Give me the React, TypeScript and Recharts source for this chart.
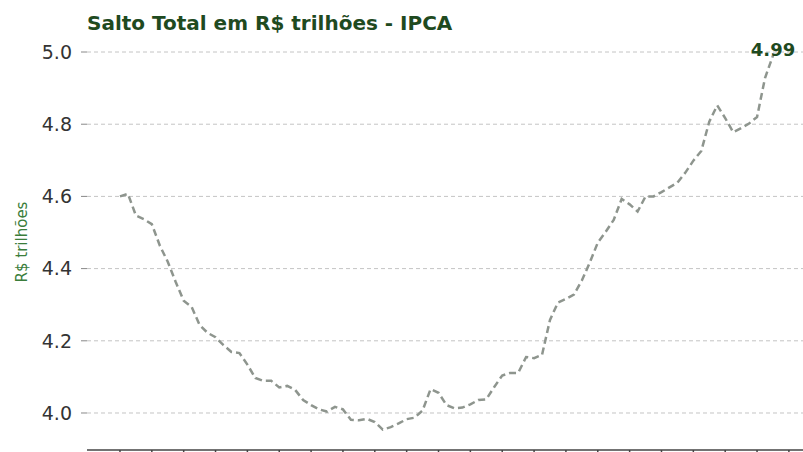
import { LineChart, Line, XAxis, YAxis, ReferenceLine, LabelList } from "recharts";

// monthly steps, values in R$ trilhões
const saltoTotal = [
  4.6, 4.607, 4.547, 4.537, 4.523, 4.464, 4.419, 4.363, 4.311, 4.294,
  4.244, 4.222, 4.21, 4.188, 4.169, 4.166, 4.134, 4.097, 4.089, 4.089,
  4.071, 4.075, 4.064, 4.036, 4.022, 4.01, 4.004, 4.017, 4.01, 3.981,
  3.98, 3.984, 3.975, 3.954, 3.961, 3.971, 3.983, 3.987, 4.007, 4.066,
  4.056, 4.022, 4.013, 4.015, 4.024, 4.036, 4.038, 4.072, 4.104, 4.111,
  4.111, 4.155, 4.152, 4.161, 4.258, 4.306, 4.316, 4.328, 4.367, 4.417,
  4.472, 4.502, 4.535, 4.593, 4.578, 4.558, 4.6, 4.6, 4.612, 4.625,
  4.638, 4.666, 4.699, 4.726, 4.807, 4.852, 4.817, 4.778, 4.789, 4.802,
  4.82, 4.928, 4.99,
];

const yTicks = [4.0, 4.2, 4.4, 4.6, 4.8, 5.0];
const xTicks = [0, 4, 8, 12, 16, 20, 24, 28, 32, 36, 40, 44, 48, 52, 56, 60, 64, 68, 72, 76, 80, 84];

const title = "Salto Total em R$ trilhões - IPCA";
const yLabel = "R$ trilhões";

const data = saltoTotal.map((v, i) => ({ i, v }));
const lastIndex = saltoTotal.length - 1;

const darkGreen = "#1f4a1f";
const font = "DejaVu Sans, sans-serif";

function LastValueLabel(props: any) {
  const { x, y, index, value } = props;
  if (index !== lastIndex) return null;
  return (
    <text
      x={x}
      y={y + 0.5}
      textAnchor="middle"
      fontFamily={font}
      fontWeight="bold"
      fontSize={18}
      fill={darkGreen}
    >
      {Number(value).toFixed(2)}
    </text>
  );
}

export default function App() {
  return (
    <div style={{ position: "fixed", left: 0, top: 0, width: 803, height: 452, background: "#fff" }}>
      <LineChart width={803} height={452} data={data} margin={{ top: 41, right: 0, bottom: 0, left: 0 }}>
        <XAxis
          dataKey="i"
          type="number"
          domain={[-4.14, 85.77]}
          allowDataOverflow
          ticks={xTicks}
          tickFormatter={() => ""}
          height={2}
          tickSize={6}
          stroke="#444"
          strokeWidth={1.5}
        />
        <YAxis
          width={87}
          domain={[3.8975, 5.0305]}
          allowDataOverflow
          ticks={yTicks}
          tickFormatter={(v: number) => v.toFixed(1)}
          axisLine={false}
          tickLine={{ stroke: "#888" }}
          tickSize={6}
          tickMargin={9}
          tick={{ fontSize: 19, fontFamily: font, fill: "#333" }}
        />
        {yTicks.map((t) => (
          <ReferenceLine key={t} y={t} stroke="#c4c4c4" strokeDasharray="4 3" />
        ))}
        <Line
          type="linear"
          dataKey="v"
          stroke="#8e958e"
          strokeWidth={2.5}
          strokeDasharray="7 4"
          dot={false}
          isAnimationActive={false}
        >
          <LabelList dataKey="v" content={<LastValueLabel />} />
        </Line>
      </LineChart>
      <svg
        width={803}
        height={452}
        style={{ position: "absolute", left: 0, top: 0, pointerEvents: "none" }}
      >
        <text x={87} y={30} fontFamily={font} fontWeight="bold" fontSize={20} fill={darkGreen}>
          {title}
        </text>
        <text
          x={0}
          y={0}
          transform="translate(27 242) rotate(-90)"
          textAnchor="middle"
          fontFamily={font}
          fontSize={15}
          fill="#3b7d3b"
        >
          {yLabel}
        </text>
      </svg>
    </div>
  );
}
